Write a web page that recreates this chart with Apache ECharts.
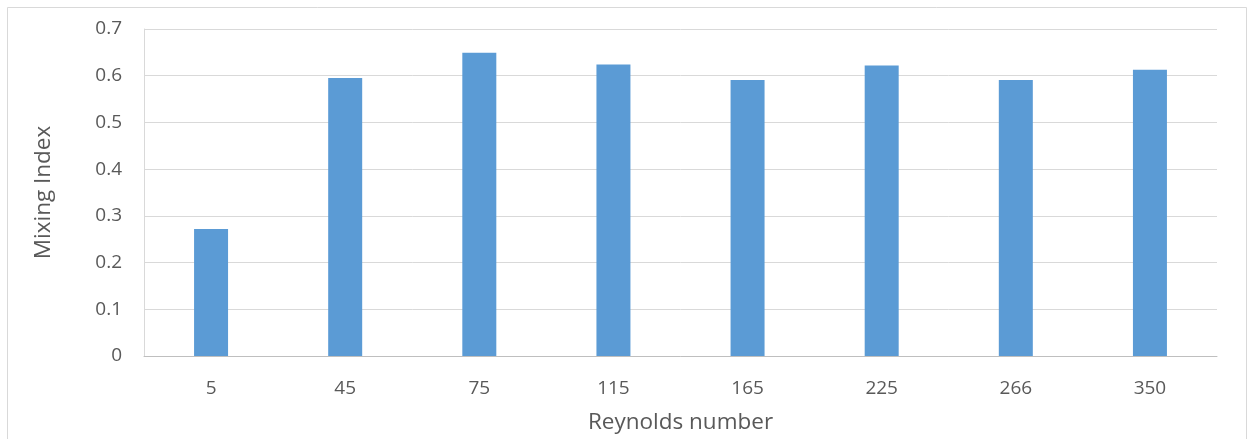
<!DOCTYPE html>
<html>
<head>
<meta charset="utf-8">
<script src="https://cdn.jsdelivr.net/npm/echarts@6/dist/echarts.min.js"></script>
<style>
  html, body { margin: 0; padding: 0; background: #fff; }
  #chart { width: 1250px; height: 439px; }
</style>
</head>
<body>
<div id="chart"></div>
<script>
// Reynolds number categories and the mixing index measured at each
const reynolds = ['5', '45', '75', '115', '165', '225', '266', '350'];
const mixingIndex = [0.272, 0.595, 0.649, 0.624, 0.591, 0.622, 0.591, 0.613];
const yTicks = { min: 0, max: 0.7, interval: 0.1 };

const chart = echarts.init(document.getElementById('chart'), null, { renderer: 'canvas' });
const fontFamily = '"Open Sans", "Noto Sans", sans-serif';

chart.setOption({
  animation: false,
  backgroundColor: '#fff',
  graphic: [{
    type: 'rect',
    shape: { x: 7.5, y: 7.5, width: 1239, height: 440 },
    style: { fill: 'none', stroke: '#D9D9D9', lineWidth: 1 },
    silent: true
  }],
  grid: { left: 144, right: 33, top: 29, bottom: 82, containLabel: false },
  xAxis: {
    type: 'category',
    data: reynolds,
    name: 'Reynolds number',
    nameLocation: 'middle',
    nameGap: 55,
    nameTextStyle: { color: '#595959', fontSize: 22.5, fontFamily },
    axisLine: { show: true, lineStyle: { color: '#BFBFBF', width: 1 } },
    axisTick: { show: false },
    axisLabel: { color: '#595959', fontSize: 19, fontFamily, margin: 23 },
    splitLine: { show: false }
  },
  yAxis: {
    type: 'value',
    min: yTicks.min,
    max: yTicks.max,
    interval: yTicks.interval,
    name: 'Mixing Index',
    nameLocation: 'middle',
    nameGap: 89,
    nameTextStyle: { color: '#595959', fontSize: 22.5, fontFamily },
    axisLine: { show: true, lineStyle: { color: '#D9D9D9', width: 1 } },
    axisTick: { show: false },
    axisLabel: {
      color: '#595959', fontSize: 19, fontFamily, margin: 22,
      formatter: v => (Math.round(v * 10) / 10).toString()
    },
    splitLine: { show: true, lineStyle: { color: '#D9D9D9', width: 1 } }
  },
  series: [{
    type: 'bar',
    data: mixingIndex,
    barWidth: 34,
    itemStyle: { color: '#5B9BD5' }
  }]
});
</script>
</body>
</html>
